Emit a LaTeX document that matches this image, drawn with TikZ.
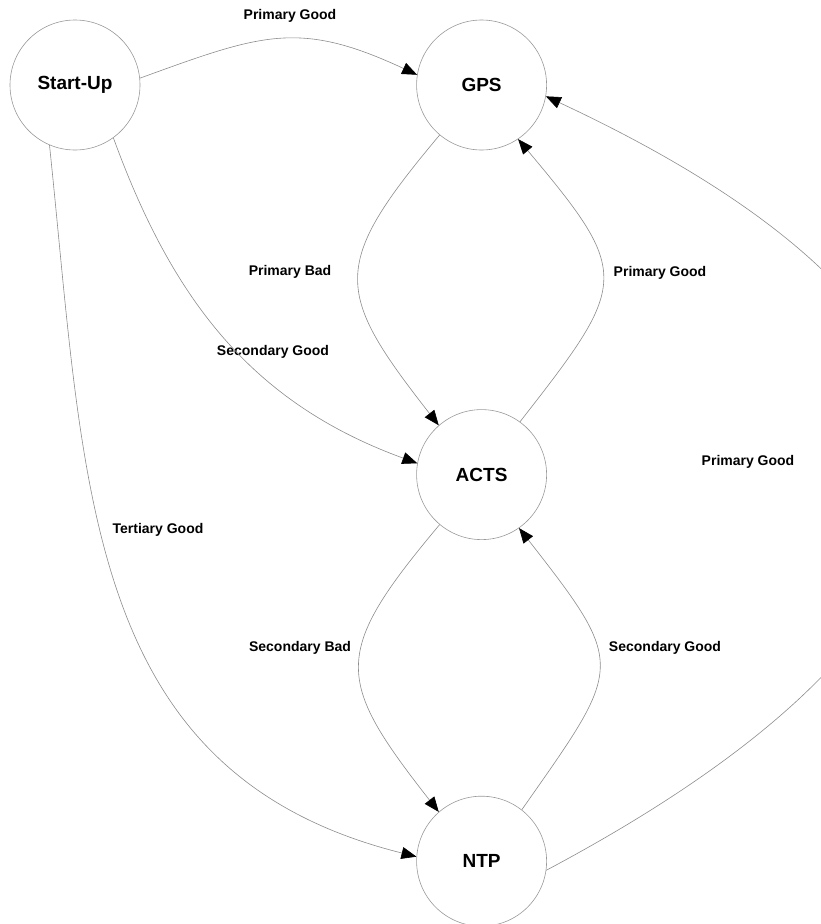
\documentclass[tikz,border=0pt]{standalone}
\usepackage{fontspec}
\setmainfont{Liberation Sans}
\usetikzlibrary{arrows.meta,positioning}

\tikzset{
  state/.style={circle, draw=gray!80, line width=0.6pt, minimum size=130pt, inner sep=0pt,
    font=\bfseries\fontsize{19}{21}\selectfont},
  trans/.style={draw=gray!90, line width=0.6pt, -{Triangle[length=15pt,width=12pt,color=black]}},
  lbl/.style={font=\bfseries\fontsize{14}{16}\selectfont}
}

\begin{document}
\begin{tikzpicture}[x=1pt, y=-1pt]
\useasboundingbox (0,0) rectangle (820,924);

% states
\node[state] (start) at (75,85) {Start-Up};
\node[state] (gps) [right=276pt of start] {GPS};
\node[state] (acts) [below=259pt of gps] {ACTS};
\node[state] (ntp) [below=256pt of acts] {NTP};

% labels
\node[lbl] (lsg) at (290,16) {Primary Good};
\node[lbl] (lgb) at (290,272) {Primary Bad};
\node[lbl] (lag) at (660,273) {Primary Good};
\node[lbl] (lsa) at (273,352) {Secondary Good};
\node[lbl] (lsn) at (158,530) {Tertiary Good};
\node[lbl] (lng) at (748,462) {Primary Good};
\node[lbl] (lan) at (300,648) {Secondary Bad};
\node[lbl] (lna) at (665,648) {Secondary Good};

% transitions
\draw[trans] (start.6) to[out=20,in=155,looseness=1.2] (gps.171);
\draw[trans] (gps.230) to[out=230,in=128,looseness=1.5] (acts.131);
\draw[trans] (acts.54) to[out=52,in=-50,looseness=1.6] (gps.-56);
\draw[trans] (start.-54) to[out=-70,in=160] (acts.170);
\draw[trans] (acts.230) to[out=230,in=128,looseness=1.5] (ntp.131);
\draw[trans] (ntp.52) to[out=55,in=-52,looseness=1.6] (acts.-55);
\draw[trans] (start.247) to[out=-84,in=166,looseness=1.1] (ntp.176);
\draw[trans] (ntp.-8) .. controls +(28:560pt) and +(-25:560pt) .. (gps.-10);
\end{tikzpicture}
\end{document}
